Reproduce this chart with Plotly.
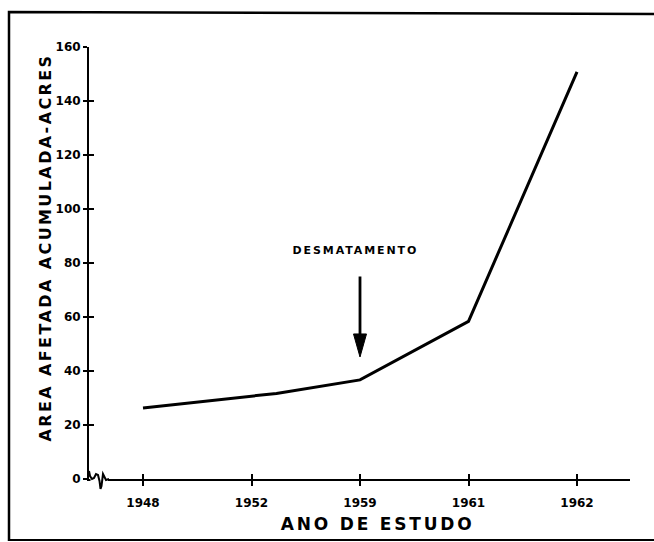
import plotly.graph_objects as go

# ---- data ----
anos = ["1948", "1952", "1959", "1961", "1962"]          # tick labels (equally spaced)
posicao_anos = [0, 1, 2, 3, 4]
posicao_pontos = [0, 1.23, 2, 3, 4]                        # x positions of line vertices
area_acres = [26.3, 31.7, 36.7, 58.4, 150.8]               # cumulative affected area
y_ticks = [0, 20, 40, 60, 80, 100, 120, 140, 160]
evento_pos = 2
evento_y = 45.2
evento_texto = "DESMATAMENTO"

W, H = 654, 542
L, R, T, B = 89, 24, 47, 63
PW, PH = W - L - R, H - T - B
X0 = 143.0        # pixel of first tick
DX = 108.5        # pixels per category step
YS = PH / 160.0   # pixels per y unit
xr = [(L - X0) / DX, (L + PW - X0) / DX]


def px(x):
    return (x - L) / PW


def py(y):
    return (H - B - y) / PH


fig = go.Figure()
fig.add_trace(go.Scatter(x=posicao_pontos, y=area_acres, mode="lines",
                         line=dict(color="black", width=3), hoverinfo="skip",
                         showlegend=False))
fig.add_trace(go.Scatter(x=[], y=[], xaxis="x2", yaxis="y2", showlegend=False))

tickfont = dict(family="DejaVu Sans", size=12, color="black", weight="bold")

fig.update_layout(
    width=W, height=H, autosize=False,
    margin=dict(l=L, r=R, t=T, b=B, pad=0),
    paper_bgcolor="white", plot_bgcolor="white",
    xaxis=dict(range=xr, tickmode="array", tickvals=posicao_anos, ticktext=anos,
               showgrid=False, zeroline=False, showline=True, linecolor="black",
               linewidth=2, ticks="outside", ticklen=5, tickwidth=2, tickcolor="black",
               tickfont=tickfont, ticklabelstandoff=7),
    yaxis=dict(range=[0, 160], tickmode="array", tickvals=y_ticks,
               showgrid=False, zeroline=False, showline=True, linecolor="black",
               linewidth=2, ticks="outside", ticklen=4, tickwidth=2, tickcolor="black",
               tickfont=tickfont, ticklabelstandoff=0),
    xaxis2=dict(overlaying="x", matches="x", range=xr, tickmode="array",
                tickvals=posicao_anos, ticks="inside", ticklen=5, tickwidth=2,
                tickcolor="black", showticklabels=False, showgrid=False,
                zeroline=False, showline=False, anchor="y2"),
    yaxis2=dict(overlaying="y", matches="y", range=[0, 160], tickmode="array",
                tickvals=y_ticks, ticks="inside", ticklen=5, tickwidth=2,
                tickcolor="black", showticklabels=False, showgrid=False,
                zeroline=False, showline=False, side="left", anchor="x2"),
)

# axis titles and event label
fig.add_annotation(text="AREA AFETADA ACUMULADA-ACRES", xref="paper", yref="paper",
                   x=px(45), y=py(248), textangle=-90, showarrow=False,
                   xanchor="center", yanchor="middle",
                   font=dict(family="DejaVu Sans", size=16, color="black", weight="bold"))
fig.add_annotation(text="ANO DE ESTUDO", xref="paper", yref="paper",
                   x=px(377), y=py(524), showarrow=False,
                   xanchor="center", yanchor="middle",
                   font=dict(family="DejaVu Sans", size=17, color="black", weight="bold"))
fig.add_annotation(text=evento_texto, x=evento_pos - 0.04, y=84.5, showarrow=False,
                   xanchor="center", yanchor="middle",
                   font=dict(family="DejaVu Sans", size=11, color="black", weight="bold"))
# arrow shaft
fig.add_annotation(text="", x=evento_pos, y=evento_y + 10 / YS, ax=0, ay=-72,
                   showarrow=True, arrowhead=0, arrowwidth=2.8, arrowcolor="black")
# narrow arrow head (tip at the event point)
hw, hl = 6.5 / DX, 23 / YS
head = (f"M {evento_pos},{evento_y} L {evento_pos - hw},{evento_y + hl} "
        f"L {evento_pos + hw},{evento_y + hl} Z")
fig.add_shape(type="path", path=head, fillcolor="black",
              line=dict(color="black", width=1), layer="above")

# axis break squiggle (cover axis start, then draw the break)
fig.add_shape(type="rect", xref="paper", yref="paper", x0=px(90.5), x1=px(108),
              y0=py(482), y1=py(476), fillcolor="white", line=dict(width=0), layer="above")
pts = [(89, 471), (90, 476), (92, 479), (94, 478), (96, 474), (98, 475), (99.5, 481),
       (100.5, 489), (101.5, 486), (103, 474), (104.5, 477), (106, 480), (109, 479)]
path = "M " + " L ".join(f"{px(a):.5f},{py(b):.5f}" for a, b in pts)
fig.add_shape(type="path", xref="paper", yref="paper", path=path,
              line=dict(color="black", width=2), layer="above")

# scanned page frame (left, top, bottom)
frame = (f"M {px(9):.5f},{py(541):.5f} L {px(9):.5f},{py(12):.5f} "
         f"L {px(660):.5f},{py(14):.5f}")
fig.add_shape(type="path", xref="paper", yref="paper", path=frame,
              line=dict(color="black", width=2.5), layer="above")
fig.add_shape(type="line", xref="paper", yref="paper", x0=px(9), x1=px(660),
              y0=py(540), y1=py(540), line=dict(color="black", width=2), layer="above")

post = """
document.body.style.margin = '0';
document.body.style.overflow = 'hidden';
var gd = document.getElementById('{plot_id}');
gd.querySelectorAll('.annotation-text').forEach(function(t){
  var s = t.textContent;
  if (s.indexOf('AREA') === 0) t.style.letterSpacing = '2.4px';
  else if (s.indexOf('ANO') === 0) t.style.letterSpacing = '2.8px';
  else if (s.indexOf('DESMAT') === 0) t.style.letterSpacing = '1.9px';
});
"""

fig.write_html("out.html", post_script=post, config={"displayModeBar": False})
